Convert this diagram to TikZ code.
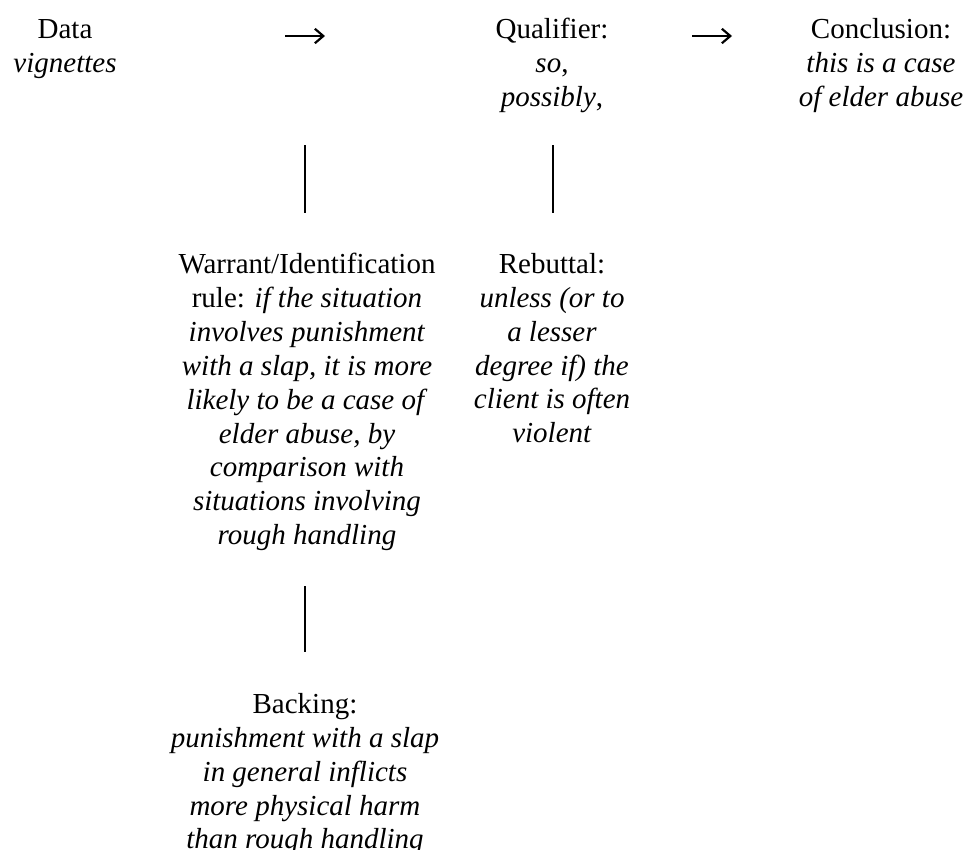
\documentclass[tikz,border=0pt]{standalone}
\usepackage{fontspec}
\setmainfont{Liberation Serif}
\usetikzlibrary{arrows.meta}
\begin{document}
\begin{tikzpicture}[x=0.4138pt,y=-0.4138pt,
	cell/.style={anchor=north,inner sep=0pt,align=center,font=\fontsize{12}{14}\selectfont},
	bar/.style={line width=0.8pt},
	link/.style={-{Straight Barb[length=3.5pt,width=6pt,line width=0.9pt]},line width=0.6pt}]
			\useasboundingbox (0,0) rectangle (965,850);

			\node[cell] at (65, 19) (data) {Data\\\textit{vignettes}};
			\node[cell] at (552, 18) (qual) {Qualifier:\\\textit{so},\\\textit{possibly},};
			\node[cell] at (881, 18) (concl) {Conclusion:\\\textit{this is a case}\\\textit{of elder abuse}};
			\node[cell] at (307, 253) (warrant) {Warrant/Identification\\rule: \textit{if the situation}\\\textit{involves punishment}\\\textit{with a slap, it is more}\\\textit{likely to be a case of}\\\textit{elder abuse, by}\\\textit{comparison with}\\\textit{situations involving}\\\textit{rough handling}};
			\node[cell] at (552, 253) (rebut) {Rebuttal:\\\textit{unless (or to}\\\textit{a lesser}\\\textit{degree if) the}\\\textit{client is often}\\\textit{violent}};
			\node[cell] at (305, 693) (backing) {Backing:\\\textit{punishment with a slap}\\\textit{in general inflicts}\\\textit{more physical harm}\\\textit{than rough handling}};

			% arrows and bars of the layout
			\coordinate (a1s) at (285, 36);
			\coordinate (a1e) at (325, 36);
			\coordinate (a2s) at (692, 36);
			\coordinate (a2e) at (732, 36);
			\coordinate (b1t) at (305, 145);
			\coordinate (b1b) at (305, 213);
			\coordinate (b2t) at (553, 145);
			\coordinate (b2b) at (553, 213);
			\coordinate (b3t) at (305, 586);
			\coordinate (b3b) at (305, 652);

			\draw[link] (a1s) -- (a1e);
			\draw[link] (a2s) -- (a2e);
			\draw[bar] (b1t) -- (b1b);
			\draw[bar] (b2t) -- (b2b);
			\draw[bar] (b3t) -- (b3b);
		\end{tikzpicture}
\end{document}
